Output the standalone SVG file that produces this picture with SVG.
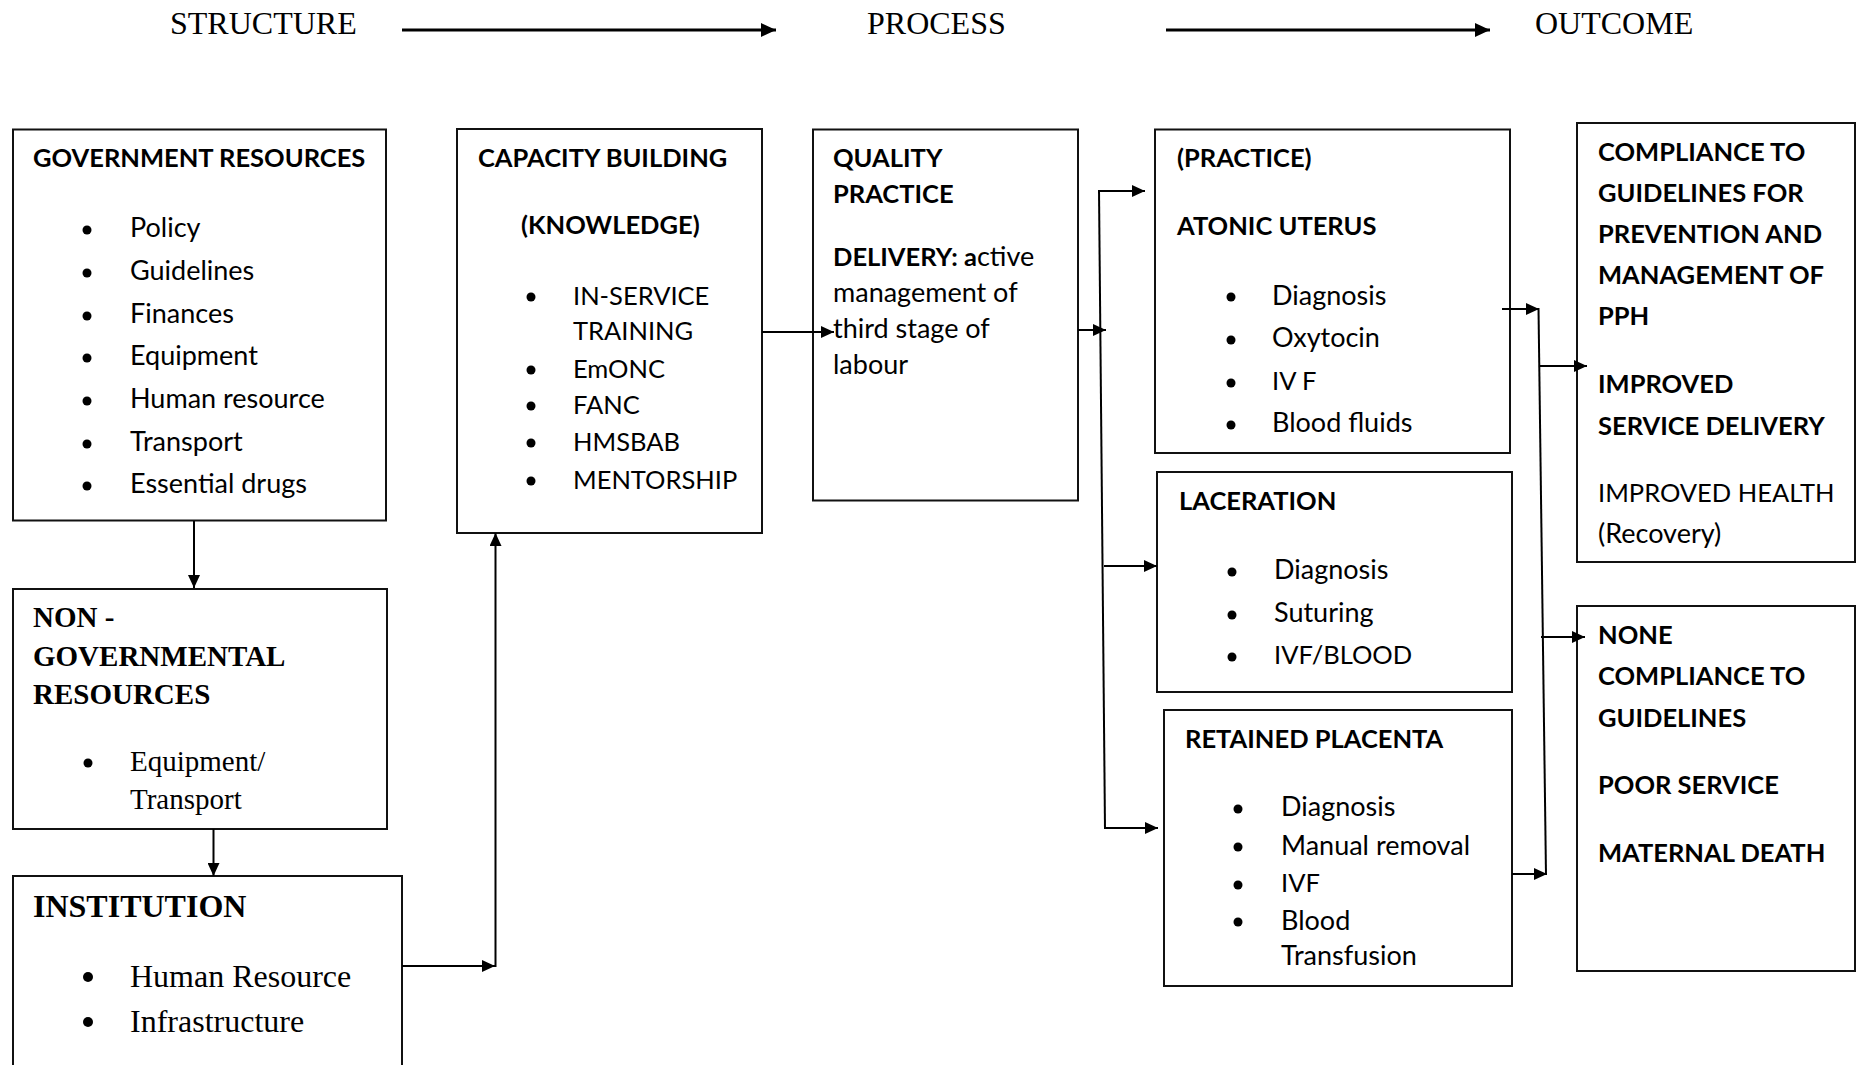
<svg xmlns="http://www.w3.org/2000/svg" width="1863" height="1065" viewBox="0 0 1863 1065">
<style>
.box{fill:#fff;stroke:#111;stroke-width:2}
.c{font-family:Lato,"Liberation Sans",sans-serif;font-size:27px;fill:#000}
.b{font-weight:bold;font-size:25.5px}
.u{font-size:25.5px}
.t{font-family:"Liberation Serif","Times New Roman",serif;font-size:29px;fill:#000}
.tb{font-weight:bold}
.h{font-family:"Liberation Serif","Times New Roman",serif;font-size:32px;fill:#000}
.dot{fill:#000}
.ln{fill:none;stroke:#000;stroke-width:2}
.lnh{fill:none;stroke:#000;stroke-width:3}
</style>
<defs>
<marker id="ah" markerUnits="userSpaceOnUse" markerWidth="14" markerHeight="12" refX="13" refY="6" orient="auto">
<path d="M0,0 L13,6 L0,12 Z" fill="#000"/>
</marker>
<marker id="ahb" markerUnits="userSpaceOnUse" markerWidth="16" markerHeight="14" refX="15" refY="7" orient="auto">
<path d="M0,0 L15,7 L0,14 Z" fill="#000"/>
</marker>
</defs>

<g id="headings">
<text class="h" x="170" y="34">STRUCTURE</text>
<text class="h" x="867" y="34">PROCESS</text>
<text class="h" x="1535" y="34">OUTCOME</text>
</g>

<g id="government">
<rect class="box" x="13" y="129.5" width="373" height="391"/>
<text class="c b" x="33" y="167">GOVERNMENT RESOURCES</text>
<circle class="dot" cx="87" cy="230" r="4.5"/><text class="c" x="130" y="237">Policy</text>
<circle class="dot" cx="87" cy="273" r="4.5"/><text class="c" x="130" y="280">Guidelines</text>
<circle class="dot" cx="87" cy="316" r="4.5"/><text class="c" x="130" y="323">Finances</text>
<circle class="dot" cx="87" cy="358" r="4.5"/><text class="c" x="130" y="365">Equipment</text>
<circle class="dot" cx="87" cy="401" r="4.5"/><text class="c" x="130" y="408">Human resource</text>
<circle class="dot" cx="87" cy="444" r="4.5"/><text class="c" x="130" y="451">Transport</text>
<circle class="dot" cx="87" cy="486" r="4.5"/><text class="c" x="130" y="493">Essential drugs</text>
</g>

<g id="nongovernmental">
<rect class="box" x="13" y="589" width="374" height="240"/>
<text class="t tb" x="33" y="627">NON -</text>
<text class="t tb" x="33" y="666">GOVERNMENTAL</text>
<text class="t tb" x="33" y="704">RESOURCES</text>
<circle class="dot" cx="88" cy="763" r="4.5"/><text class="t" x="130" y="771">Equipment/</text>
<text class="t" x="130" y="809">Transport</text>
</g>

<g id="institution">
<rect class="box" x="13" y="876" width="389" height="210"/>
<text class="t tb" x="33" y="917" style="font-size:32px">INSTITUTION</text>
<circle class="dot" cx="88" cy="977" r="5"/><text class="t" x="130" y="987" style="font-size:32px">Human Resource</text>
<circle class="dot" cx="88" cy="1022" r="5"/><text class="t" x="130" y="1032" style="font-size:32px">Infrastructure</text>
</g>

<g id="capacity">
<rect class="box" x="457" y="129" width="305" height="404"/>
<text class="c b" x="478" y="167">CAPACITY BUILDING</text>
<text class="c b" x="521" y="234">(KNOWLEDGE)</text>
<circle class="dot" cx="531" cy="297" r="4.5"/><text class="c u" x="573" y="305">IN-SERVICE</text>
<text class="c u" x="573" y="340">TRAINING</text>
<circle class="dot" cx="531" cy="370" r="4.5"/><text class="c u" x="573" y="378">EmONC</text>
<circle class="dot" cx="531" cy="406" r="4.5"/><text class="c u" x="573" y="414">FANC</text>
<circle class="dot" cx="531" cy="443" r="4.5"/><text class="c u" x="573" y="451">HMSBAB</text>
<circle class="dot" cx="531" cy="481" r="4.5"/><text class="c u" x="573" y="489">MENTORSHIP</text>
</g>

<g id="quality">
<rect class="box" x="813" y="129.5" width="265" height="371"/>
<text class="c b" x="833" y="167">QUALITY</text>
<text class="c b" x="833" y="203">PRACTICE</text>
<text class="c" x="833" y="266"><tspan class="b">DELIVERY: a</tspan>ctive</text>
<text class="c" x="833" y="302">management of</text>
<text class="c" x="833" y="338">third stage of</text>
<text class="c" x="833" y="374">labour</text>
</g>

<g id="atonic">
<rect class="box" x="1155" y="129.5" width="355" height="323.5"/>
<text class="c b" x="1177" y="167">(PRACTICE)</text>
<text class="c b" x="1177" y="235">ATONIC UTERUS</text>
<circle class="dot" cx="1231" cy="297" r="4.5"/><text class="c" x="1272" y="305">Diagnosis</text>
<circle class="dot" cx="1231" cy="340" r="4.5"/><text class="c" x="1272" y="347">Oxytocin</text>
<circle class="dot" cx="1231" cy="383" r="4.5"/><text class="c u" x="1272" y="390">IV F</text>
<circle class="dot" cx="1231" cy="425" r="4.5"/><text class="c" x="1272" y="432">Blood fluids</text>
</g>

<g id="laceration">
<rect class="box" x="1157" y="472" width="355" height="220"/>
<text class="c b" x="1179" y="510">LACERATION</text>
<circle class="dot" cx="1232" cy="572" r="4.5"/><text class="c" x="1274" y="579">Diagnosis</text>
<circle class="dot" cx="1232" cy="615" r="4.5"/><text class="c" x="1274" y="622">Suturing</text>
<circle class="dot" cx="1232" cy="657" r="4.5"/><text class="c u" x="1274" y="664">IVF/BLOOD</text>
</g>

<g id="retained">
<rect class="box" x="1164" y="710" width="348" height="276"/>
<text class="c b" x="1185" y="748">RETAINED PLACENTA</text>
<circle class="dot" cx="1238" cy="809" r="4.5"/><text class="c" x="1281" y="816">Diagnosis</text>
<circle class="dot" cx="1238" cy="847" r="4.5"/><text class="c" x="1281" y="855">Manual removal</text>
<circle class="dot" cx="1238" cy="885" r="4.5"/><text class="c u" x="1281" y="892">IVF</text>
<circle class="dot" cx="1238" cy="922" r="4.5"/><text class="c" x="1281" y="930">Blood</text>
<text class="c" x="1281" y="965">Transfusion</text>
</g>

<g id="compliance">
<rect class="box" x="1577" y="123" width="278" height="439"/>
<text class="c b" x="1598" y="161">COMPLIANCE TO</text>
<text class="c b" x="1598" y="202">GUIDELINES FOR</text>
<text class="c b" x="1598" y="243">PREVENTION AND</text>
<text class="c b" x="1598" y="284">MANAGEMENT OF</text>
<text class="c b" x="1598" y="325">PPH</text>
<text class="c b" x="1598" y="393">IMPROVED</text>
<text class="c b" x="1598" y="435">SERVICE DELIVERY</text>
<text class="c u" x="1598" y="502">IMPROVED HEALTH</text>
<text class="c" x="1598" y="543">(Recovery)</text>
</g>

<g id="noncompliance">
<rect class="box" x="1577" y="606" width="278" height="365"/>
<text class="c b" x="1598" y="644">NONE</text>
<text class="c b" x="1598" y="685">COMPLIANCE TO</text>
<text class="c b" x="1598" y="727">GUIDELINES</text>
<text class="c b" x="1598" y="794">POOR SERVICE</text>
<text class="c b" x="1598" y="862">MATERNAL DEATH</text>
</g>

<g id="connectors">
<line class="lnh" x1="402" y1="30" x2="776" y2="30" marker-end="url(#ahb)"/>
<line class="lnh" x1="1166" y1="30" x2="1490" y2="30" marker-end="url(#ahb)"/>
<line class="ln" x1="194" y1="521" x2="194" y2="588" marker-end="url(#ah)"/>
<line class="ln" x1="213.5" y1="829" x2="213.5" y2="876" marker-end="url(#ah)"/>
<line class="ln" x1="402" y1="966" x2="495" y2="966" marker-end="url(#ah)"/>
<line class="ln" x1="495.5" y1="967" x2="495.5" y2="533" marker-end="url(#ah)"/>
<line class="ln" x1="762" y1="332" x2="834" y2="332" marker-end="url(#ah)"/>
<line class="ln" x1="1078" y1="330" x2="1106" y2="330" marker-end="url(#ah)"/>
<line class="ln" x1="1099" y1="190" x2="1105" y2="829"/>
<line class="ln" x1="1098" y1="191" x2="1145" y2="191" marker-end="url(#ah)"/>
<line class="ln" x1="1104" y1="566" x2="1157" y2="566" marker-end="url(#ah)"/>
<line class="ln" x1="1104" y1="828" x2="1158" y2="828" marker-end="url(#ah)"/>
<line class="ln" x1="1502" y1="309" x2="1539" y2="309" marker-end="url(#ah)"/>
<line class="ln" x1="1538.5" y1="308" x2="1546" y2="875"/>
<line class="ln" x1="1539" y1="366" x2="1587" y2="366" marker-end="url(#ah)"/>
<line class="ln" x1="1541" y1="637" x2="1585" y2="637" marker-end="url(#ah)"/>
<line class="ln" x1="1512" y1="874" x2="1547" y2="874" marker-end="url(#ah)"/>
</g>
</svg>
